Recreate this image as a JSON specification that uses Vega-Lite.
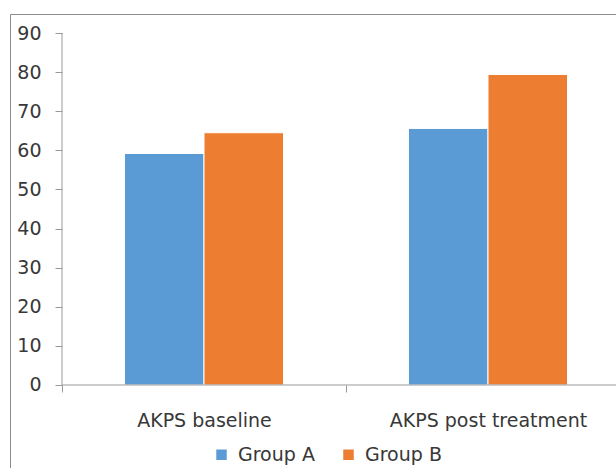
{
  "$schema": "https://vega.github.io/schema/vega-lite/v6.json",
  "width": 625,
  "height": 456,
  "padding": {"left": 10, "top": 14, "right": 0, "bottom": 0},
  "autosize": {"type": "none"},
  "background": "white",
  "config": {
    "font": "DejaVu Sans",
    "view": {"stroke": "#8c8c8c", "strokeWidth": 1},
    "axis": {"labelFont": "DejaVu Sans", "labelColor": "#383838", "labelFontSize": 18, "tickColor": "#9a9a9a", "grid": false, "title": null, "labelLimit": 0}
  },
  "layer": [
    {
      "data": {"values": [
        {"cat": "AKPS baseline", "group": "Group A", "value": 59.2},
        {"cat": "AKPS baseline", "group": "Group B", "value": 64.5},
        {"cat": "AKPS post treatment", "group": "Group A", "value": 65.6},
        {"cat": "AKPS post treatment", "group": "Group B", "value": 79.4}
      ]},
      "mark": {"type": "bar", "stroke": "white", "strokeWidth": 1},
      "encoding": {
        "x": {
          "field": "cat", "type": "nominal", "sort": null,
          "scale": {"paddingInner": 0, "paddingOuter": 0.10035, "align": 0.9123},
          "axis": {"orient": "bottom", "offset": -85, "domain": false, "tickBand": "extent", "tickSize": 7, "labelAngle": 0, "labelPadding": 19, "labelFontSize": 19, "labelLimit": 0, "title": null}
        },
        "xOffset": {
          "field": "group", "type": "nominal",
          "scale": {"paddingInner": 0, "paddingOuter": 0.786}
        },
        "y": {
          "field": "value", "type": "quantitative",
          "scale": {"domain": [-21.733, 94.858], "nice": false, "zero": false},
          "axis": {"orient": "left", "offset": -52, "domain": false, "values": [0, 10, 20, 30, 40, 50, 60, 70, 80, 90], "tickSize": 7, "labelPadding": 14, "labelFontSize": 19, "title": null}
        },
        "y2": {"datum": 0},
        "color": {
          "field": "group", "type": "nominal",
          "scale": {"domain": ["Group A", "Group B"], "range": ["#5B9BD5", "#ED7D31"]},
          "legend": {
            "title": null, "orient": "none", "legendX": 202, "legendY": 431,
            "direction": "horizontal", "symbolType": "square", "symbolSize": 110,
            "symbolStrokeWidth": 0, "labelFontSize": 19, "labelColor": "#383838",
            "labelOffset": 7, "columnPadding": 24, "labelLimit": 0
          }
        }
      }
    },
    {
      "data": {"values": [{}]},
      "mark": {"type": "rule", "color": "#9a9a9a", "strokeWidth": 1},
      "encoding": {
        "x": {"datum": "AKPS baseline", "type": "nominal", "bandPosition": 0},
        "y": {"datum": 0, "type": "quantitative"},
        "y2": {"datum": 90}
      }
    },
    {
      "data": {"values": [{}]},
      "mark": {"type": "rule", "color": "#9a9a9a", "strokeWidth": 1},
      "encoding": {
        "x": {"datum": "AKPS baseline", "type": "nominal", "bandPosition": 0},
        "x2": {"datum": "AKPS post treatment", "bandPosition": 1},
        "y": {"datum": 0, "type": "quantitative"}
      }
    }
  ]
}
